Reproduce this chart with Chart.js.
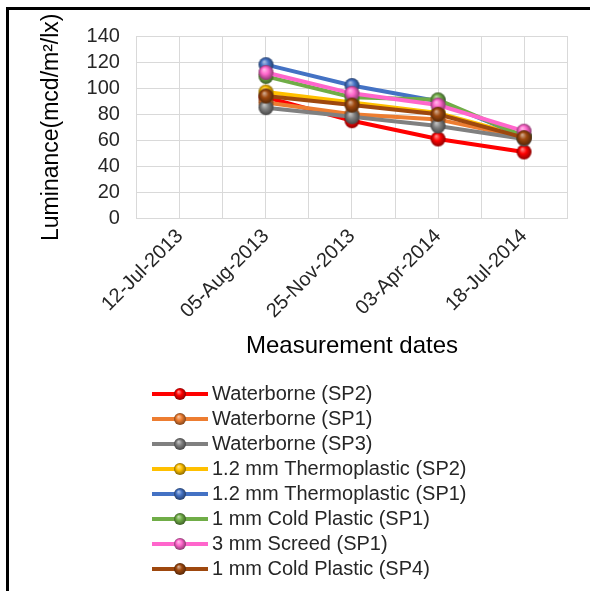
<!DOCTYPE html>
<html>
<head>
<meta charset="utf-8">
<script src="https://cdn.jsdelivr.net/npm/chart.js@4.4.1/dist/chart.umd.min.js"></script>
<style>
  html, body { margin: 0; padding: 0; background: #fff; }
  #wrap { position: relative; width: 590px; height: 591px; overflow: hidden; }
  #frame { position: absolute; left: 6px; top: 7px; width: 600px; height: 600px;
           border-left: 3px solid #000; border-top: 3px solid #000; pointer-events: none; }
  canvas { display: block; }
</style>
</head>
<body>
<div id="wrap">
  <canvas id="c" width="590" height="591"></canvas>
  <div id="frame"></div>
</div>
<script>
// ---- data ----
const dates = ['12-Jul-2013', '05-Aug-2013', '25-Nov-2013', '03-Apr-2014', '18-Jul-2014'];
const seriesNames = [
  'Waterborne (SP2)', 'Waterborne (SP1)', 'Waterborne (SP3)',
  '1.2 mm Thermoplastic (SP2)', '1.2 mm Thermoplastic (SP1)',
  '1 mm Cold Plastic (SP1)', '3 mm Screed (SP1)', '1 mm Cold Plastic (SP4)'
];
const waterborneSP2   = [null, 93, 75, 61, 51];
const waterborneSP1   = [null, 89, 80, 76, 62];
const waterborneSP3   = [null, 85, 78, 71, 61];
const thermo12SP2     = [null, 97, 89, 81, 63];
const thermo12SP1     = [null, 118, 102, 90, 63];
const coldPlastic1SP1 = [null, 109, 93, 91, 63];
const screed3SP1      = [null, 112, 96, 87, 67];
const coldPlastic1SP4 = [null, 94, 87, 80, 62];
const yTicks = [0, 20, 40, 60, 80, 100, 120, 140];

const seriesValues = [waterborneSP2, waterborneSP1, waterborneSP3, thermo12SP2,
                      thermo12SP1, coldPlastic1SP1, screed3SP1, coldPlastic1SP4];
const seriesColors = ['#FF0000', '#ED7D31', '#808080', '#FFC000',
                      '#4472C4', '#70AD47', '#FF66CC', '#9E480E'];

// ---- sphere markers ----
function hexToRgb(h) { const n = parseInt(h.slice(1), 16); return [(n >> 16) & 255, (n >> 8) & 255, n & 255]; }
function mix(h, t, a) { const c = hexToRgb(h); return 'rgb(' + c.map((v, i) => Math.round(v + (t[i] - v) * a)).join(',') + ')'; }
function ball(color, r) {
  const c = document.createElement('canvas');
  const s = Math.ceil(2 * r + 2);
  c.width = s; c.height = s;
  const x = c.getContext('2d');
  const cx = s / 2, cy = s / 2;
  const g = x.createRadialGradient(cx - r * 0.25, cy - r * 0.4, r * 0.05, cx, cy, r);
  g.addColorStop(0, mix(color, [255, 255, 255], 0.55));
  g.addColorStop(0.45, color);
  g.addColorStop(1, mix(color, [0, 0, 0], 0.45));
  x.fillStyle = g;
  x.beginPath(); x.arc(cx, cy, r, 0, Math.PI * 2); x.fill();
  return c;
}

const FONT = "'Liberation Sans', Arial, sans-serif";
const N = seriesNames.length;
const datasets = seriesNames.map((name, i) => ({
  label: name,
  data: seriesValues[i].map((v, k) => ({ x: k, y: v })).filter(p => p.y !== null),
  borderColor: seriesColors[i],
  backgroundColor: seriesColors[i],
  borderWidth: 4,
  tension: 0,
  pointStyle: ball(seriesColors[i], 7.5),
  legendBall: ball(seriesColors[i], 6),
  order: N - 1 - i
}));

// legend drawn as one entry per row
const rowLegend = {
  id: 'rowLegend',
  afterDraw(chart) {
    const ctx = chart.ctx;
    const x0 = 152, lineW = 56, rowH = 25;
    const y0 = chart.height - 197;
    ctx.save();
    ctx.font = '20px ' + FONT;
    ctx.textBaseline = 'middle';
    ctx.textAlign = 'left';
    chart.data.datasets.forEach((ds, i) => {
      const y = y0 + i * rowH;
      ctx.strokeStyle = ds.borderColor;
      ctx.lineWidth = 4;
      ctx.beginPath(); ctx.moveTo(x0, y); ctx.lineTo(x0 + lineW, y); ctx.stroke();
      const b = ds.legendBall;
      ctx.drawImage(b, x0 + lineW / 2 - b.width / 2, y - b.height / 2);
      ctx.fillStyle = '#262626';
      ctx.fillText(ds.label, x0 + lineW + 4, y);
    });
    ctx.restore();
  }
};

new Chart(document.getElementById('c'), {
  type: 'line',
  data: { datasets },
  options: {
    responsive: false,
    animation: false,
    layout: { padding: { left: 38, top: 36, right: 20, bottom: 230 } },
    plugins: { legend: { display: false }, tooltip: { enabled: false } },
    scales: {
      x: {
        type: 'linear',
        min: -0.5, max: 4.5,
        grid: { color: '#D9D9D9', drawTicks: false },
        border: { color: '#D9D9D9' },
        ticks: {
          stepSize: 0.5,
          autoSkip: false,
          minRotation: 45, maxRotation: 45,
          padding: 6,
          color: '#262626',
          font: { family: FONT, size: 20 },
          callback: v => { const i = Math.round(v); return Math.abs(v - i) < 1e-6 ? dates[i] : ''; }
        },
        title: { display: true, text: 'Measurement dates', color: '#000',
                 font: { family: FONT, size: 24 }, padding: { top: 3, bottom: 0 } }
      },
      y: {
        min: yTicks[0], max: yTicks[yTicks.length - 1],
        grid: { color: '#D9D9D9', drawTicks: false },
        border: { color: '#D9D9D9' },
        afterBuildTicks: s => { s.ticks = yTicks.map(v => ({ value: v })); },
        ticks: { autoSkip: false, padding: 17, color: '#262626', font: { family: FONT, size: 20 } },
        title: { display: true, text: 'Luminance(mcd/m²/lx)', color: '#000',
                 font: { family: FONT, size: 23 }, padding: { top: 0, bottom: 4 } }
      }
    }
  },
  plugins: [rowLegend]
});
</script>
</body>
</html>
